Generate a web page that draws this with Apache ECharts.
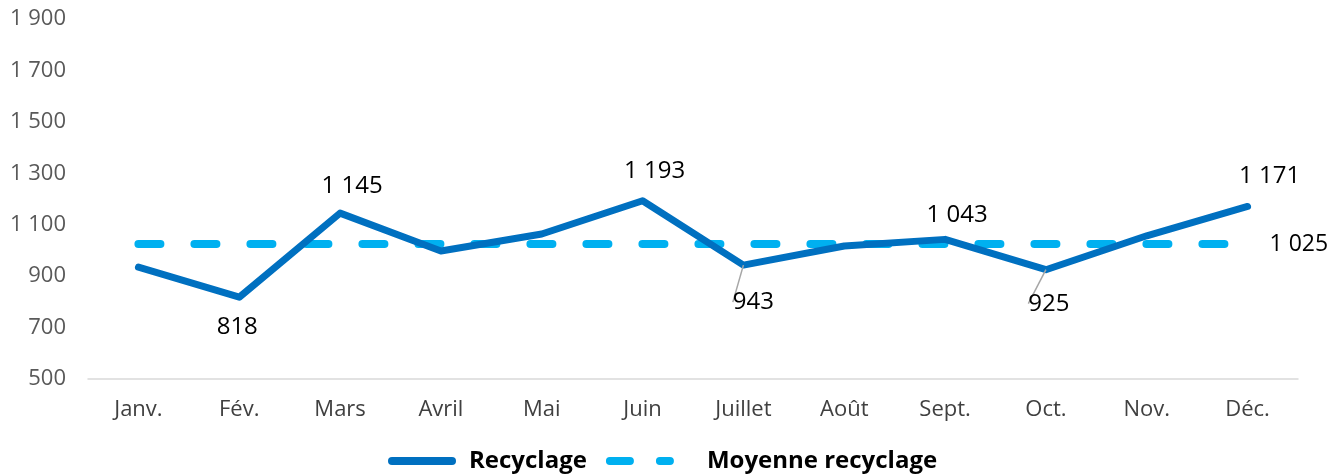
<!DOCTYPE html>
<html><head><meta charset="utf-8">
<script src="https://cdn.jsdelivr.net/npm/echarts@6/dist/echarts.min.js"></script>
<style>html,body{margin:0;padding:0;background:#fff}#c{width:1342px;height:476px}</style>
</head><body><div id="c"></div>
<script>
const categories = ['Janv.','Fév.','Mars','Avril','Mai','Juin','Juillet','Août','Sept.','Oct.','Nov.','Déc.'];
const recyclage = [935, 818, 1145, 998, 1064, 1193, 943, 1017, 1043, 925, 1057, 1171];
const moyenne = [1025,1025,1025,1025,1025,1025,1025,1025,1025,1025,1025,1025];
const labelAbove = [2, 5, 8, 11];
const labelBelow = [1];
const labelBelowLeader = [6, 9];

// label styling (positions only, not data)
const topDist = {2:15, 5:18, 8:12, 11:18};
const labelShift = {1:{dx:-2}, 2:{dx:12}, 5:{dx:12}, 6:{dx:10, dy:17}, 8:{dx:12}, 9:{dx:3, dy:14}, 11:{dx:22}};

const FONT = '"Open Sans", "Noto Sans", sans-serif';
function fmt(v){ return String(Math.round(v)).replace(/\B(?=(\d{3})+(?!\d))/g, ' '); }

const recData = recyclage.map((v,i)=>{
  const d = {value: v};
  if (labelAbove.includes(i)) d.label = {show:true, position:'top', distance:topDist[i]};
  else if (labelBelow.includes(i)) d.label = {show:true, position:'bottom', distance:18};
  else if (labelBelowLeader.includes(i)) {
    d.label = {show:true, position:'bottom', distance:8};
    d.labelLine = {show:true};
  }
  return d;
});
const moyData = moyenne.map((v,i)=>{
  const d = {value: v};
  if (i === moyenne.length-1) d.label = {show:true, position:'right', distance:22};
  return d;
});

const chart = echarts.init(document.getElementById('c'), null, {renderer:'canvas'});
chart.setOption({
  animation:false,
  textStyle:{fontFamily:FONT},
  grid:{left:88, right:44, top:19, bottom:97, containLabel:false},
  xAxis:{
    type:'category', data:categories, boundaryGap:true,
    axisLine:{lineStyle:{color:'#d9d9d9', width:1.5}},
    axisTick:{show:false},
    axisLabel:{color:'#404040', fontSize:22, margin:20, fontFamily:FONT}
  },
  yAxis:{
    type:'value', min:500, max:1900, interval:200,
    splitLine:{show:false}, axisLine:{show:false}, axisTick:{show:false},
    axisLabel:{color:'#595959', fontSize:22, margin:22, fontFamily:FONT, formatter:fmt}
  },
  legend:{
    bottom:-2, left:383, itemWidth:60, itemHeight:16, itemGap:19,
    itemStyle:{opacity:0},
    textStyle:{fontSize:24, fontWeight:'bold', color:'#000', fontFamily:FONT},
    data:[
      {name:'Recyclage', lineStyle:{width:8, type:'solid', cap:'round', color:'#0070C0'}, textStyle:{padding:[0,0,0,12]}},
      {name:'Moyenne recyclage', lineStyle:{width:8, type:[20,30], cap:'round', color:'#00B0F0'}, textStyle:{padding:[0,0,0,32]}}
    ]
  },
  series:[
    {
      name:'Moyenne recyclage', type:'line', data:moyData, symbol:'circle', symbolSize:0,
      lineStyle:{color:'#00B0F0', width:8, type:[22,34], cap:'round'},
      itemStyle:{color:'transparent', borderWidth:0},
      label:{show:false, color:'#000', fontSize:23, fontFamily:FONT, formatter:p=>fmt(p.value)},
      z:2
    },
    {
      name:'Recyclage', type:'line', data:recData, symbol:'circle', symbolSize:0,
      lineStyle:{color:'#0070C0', width:7, cap:'round', join:'round'},
      itemStyle:{color:'transparent', borderWidth:0},
      label:{show:false, color:'#000', fontSize:24, fontFamily:FONT, formatter:p=>fmt(p.value)},
      labelLine:{show:false, lineStyle:{color:'#a6a6a6', width:1.5}},
      labelLayout:function(params){
        if (params.seriesIndex === 1 && labelShift[params.dataIndex]) {
          return labelShift[params.dataIndex];
        }
        return {};
      },
      z:3
    }
  ]
});
</script></body></html>
